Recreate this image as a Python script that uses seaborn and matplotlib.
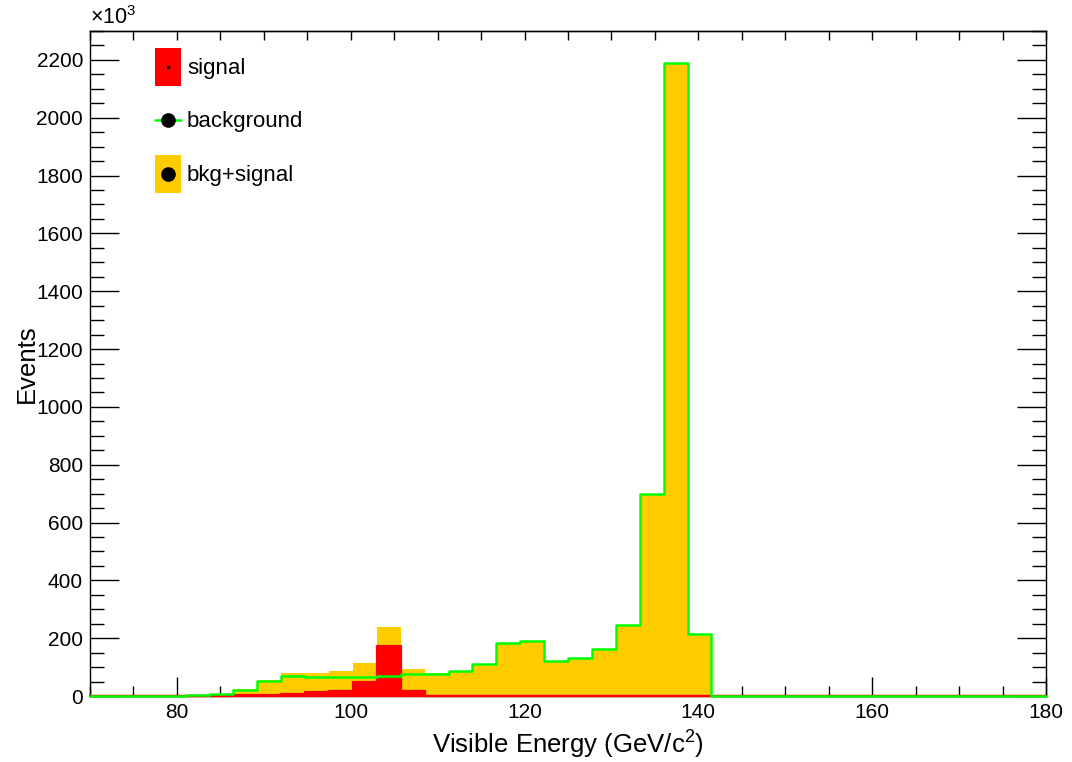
import numpy as np
import pandas as pd
import matplotlib
matplotlib.use("Agg")
import matplotlib.pyplot as plt
import seaborn as sns
from matplotlib.patches import Patch
from matplotlib.lines import Line2D
from matplotlib.legend_handler import HandlerTuple, HandlerLine2D

# Histogram binning: 40 bins from 70 to 180 GeV/c^2
x_min, x_max, n_bins = 70, 180, 40

# Bin contents in units of 10^3 events
signal = [0, 0, 0, 0, 0.5, 1.5, 2, 2, 8, 13,
          18, 48, 172, 18, 1, 0, 0, 0, 0, 0,
          0, 0, 0, 0, 0, 0, 0, 0, 0, 0,
          0, 0, 0, 0, 0, 0, 0, 0, 0, 0]
background = [0, 0, 0, 0, 3, 7, 22, 53, 70, 67,
              67, 67, 68, 75, 77, 87, 109, 185, 191, 121,
              131, 163, 244, 698, 2190, 215, 0, 0, 0, 0,
              0, 0, 0, 0, 0, 0, 0, 0, 0, 0]

legend_labels = ["signal", "background", "bkg+signal"]
x_title = "Visible Energy (GeV/c$^{2}$)"
y_title = "Events"

edges = np.linspace(x_min, x_max, n_bins + 1)
df = pd.DataFrame({
    "energy": 0.5 * (edges[:-1] + edges[1:]),
    "signal": np.array(signal, dtype=float),
    "background": np.array(background, dtype=float),
})
df["total"] = df["signal"] + df["background"]

sns.set_style("ticks")
plt.rcParams["font.family"] = ["Liberation Sans", "DejaVu Sans"]
plt.rcParams["mathtext.fontset"] = "custom"
plt.rcParams["mathtext.rm"] = "Liberation Sans"
plt.rcParams["mathtext.it"] = "Liberation Sans:italic"
plt.rcParams["mathtext.bf"] = "Liberation Sans:bold"
for key in ("text.color", "axes.labelcolor", "xtick.color", "ytick.color",
            "xtick.labelcolor", "ytick.labelcolor"):
    plt.rcParams[key] = "black"

RED = "#ff0000"
YELLOW = "#ffcc00"
GREEN = "#00ff00"


class CenteredLineHandler(HandlerLine2D):
    """Line/marker legend handler centred on the full handle box height."""

    def create_artists(self, legend, orig_handle, xdescent, ydescent,
                       width, height, fontsize, trans):
        artists = super().create_artists(legend, orig_handle, xdescent, ydescent,
                                         width, height, fontsize, trans)
        for art in artists:
            if isinstance(art, Line2D):
                art.set_ydata(np.asarray(art.get_ydata()) - ydescent / 2.0)
        return artists


fig = plt.figure(figsize=(10.72, 7.62), dpi=100)
ax = fig.add_axes([90 / 1072, 66 / 762, 956 / 1072, 665 / 762])

hist_kws = dict(data=df, x="energy", bins=n_bins, binrange=(x_min, x_max),
                element="step", ax=ax)
# bkg+signal (filled yellow)
sns.histplot(weights="total", fill=True, color=YELLOW, alpha=1, linewidth=0, **hist_kws)
# signal (filled red)
sns.histplot(weights="signal", fill=True, color=RED, alpha=1, linewidth=1.6, **hist_kws)
# background (green outline)
sns.histplot(weights="background", fill=False, color=GREEN, linewidth=1.8, **hist_kws)

colls = list(ax.collections)
colls[0].set_edgecolor("none")
colls[1].set_edgecolor(RED)
for coll in colls:
    coll.set_clip_on(False)
    coll.set_zorder(3)
for ln in ax.lines:
    ln.set_clip_on(False)
    ln.set_zorder(4)

ax.set_xlim(x_min, x_max)
ax.set_ylim(0, 2300)

ax.set_xticks(np.arange(80, 181, 20))
ax.set_xticks(np.arange(70, 181, 5), minor=True)
ax.set_yticks(np.arange(0, 2201, 200))
ax.set_yticks(np.arange(0, 2301, 50), minor=True)

ax.tick_params(axis="x", which="major", direction="in", length=13.7, width=1.0,
               labelsize=15, pad=5, top=False, bottom=True, colors="black")
ax.tick_params(axis="x", which="minor", direction="in", length=7.2, width=1.0,
               top=False, bottom=True, colors="black")
ax.tick_params(axis="y", which="major", direction="in", length=21, width=1.0,
               labelsize=15, pad=5, left=True, right=True, colors="black")
ax.tick_params(axis="y", which="minor", direction="in", length=10, width=1.0,
               left=True, right=True, colors="black")

top = ax.secondary_xaxis("top")
top.set_xticks(np.arange(70, 181, 5))
top.tick_params(direction="in", length=6.5, width=1.0, labeltop=False, colors="black")
top.spines["top"].set_linewidth(1.0)

for sp in ax.spines.values():
    sp.set_visible(True)
    sp.set_linewidth(1.0)
    sp.set_color("black")

ax.set_xlabel(x_title, fontsize=18.5, color="black")
ax.set_ylabel(y_title, fontsize=18.5, color="black")
ax.xaxis.set_label_coords(0.5, -0.049)
ax.yaxis.set_label_coords(-0.053, 0.5)

ax.text(0.0, 1.003, r"$\times$10$^{3}$", transform=ax.transAxes,
        ha="left", va="bottom", fontsize=15.5, color="black")

h_sig = (Patch(facecolor=RED, edgecolor="none"),
         Line2D([], [], marker="s", markersize=1.5, color="black", linestyle="none"))
h_bkg = Line2D([], [], color=GREEN, linewidth=1.8, marker="o", markersize=9.5,
               markerfacecolor="black", markeredgecolor="black")
h_tot = (Patch(facecolor=YELLOW, edgecolor="none"),
         Line2D([], [], marker="o", markersize=9.5, color="black", linestyle="none"))

ax.legend([h_sig, h_bkg, h_tot], legend_labels,
          handler_map={tuple: HandlerTuple(ndivide=1, pad=0),
                       Line2D: CenteredLineHandler()},
          loc="upper left", bbox_to_anchor=((155 - 90) / 956, 1 - (48 - 31) / 665),
          frameon=False, fontsize=16, borderpad=0, borderaxespad=0,
          handlelength=1.17, handleheight=2.25, handletextpad=0.27,
          labelspacing=0.7, numpoints=1)

fig.savefig("out.png", dpi=100)
